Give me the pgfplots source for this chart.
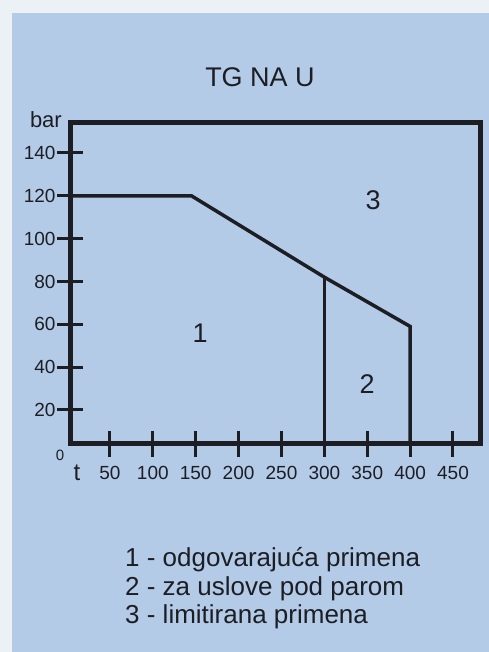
\documentclass[border=0pt]{standalone}
\usepackage{fontspec}
\setmainfont{Liberation Sans}
\usepackage{pgfplots}
\pgfplotsset{compat=1.18}
\definecolor{panel}{RGB}{180,203,232}
\definecolor{edge}{RGB}{236,241,246}
\definecolor{ink}{RGB}{28,30,36}
\begin{document}
\begin{tikzpicture}[x=1pt,y=1pt]
\fill[edge] (0,0) rectangle (489,652);
\fill[panel] (12,0) rectangle (489,639);
\node[text=ink,font=\fontsize{27}{30}\selectfont] at (260,575) {TG NA U};
\begin{axis}[
  at={(70pt,208pt)}, anchor=south west,
  scale only axis, width=410pt, height=321pt,
  xmin=3.4, xmax=481.5, ymin=4.1, ymax=154,
  clip=false,
  axis line style={ink, line width=5pt},
  xtick={50,100,...,450}, ytick={20,40,...,140},
  tick pos=left, tick align=center, major tick length=26pt,
  tick style={ink, line width=3pt},
  tick label style={font=\fontsize{19}{21}\selectfont, text=ink},
  /pgf/number format/assume math mode=true,
  xticklabel style={anchor=north, yshift=-6pt},
  yticklabel style={anchor=east, xshift=2pt},
]
\addplot[ink, line width=3.5pt] coordinates {(3.4,120) (145,120) (300,82) (400,59) (400,4.1)};
\addplot[ink, line width=3.5pt] coordinates {(300,82) (300,4.1)};
\node[text=ink, font=\fontsize{27}{30}\selectfont] at (axis cs:155,56) {1};
\node[text=ink, font=\fontsize{27}{30}\selectfont] at (axis cs:357,118) {3};
\node[text=ink, font=\fontsize{27}{30}\selectfont] at (axis cs:350,32) {2};
\node[text=ink, font=\fontsize{22}{24}\selectfont, anchor=base east, inner sep=0pt] at ([xshift=-8pt,yshift=-5pt]rel axis cs:0,1) {bar};
\node[text=ink, font=\fontsize{15}{17}\selectfont, inner sep=0pt] at ([xshift=-10pt,yshift=-11pt]rel axis cs:0,0) {0};
\node[text=ink, font=\fontsize{24}{26}\selectfont, inner sep=0pt] at ([xshift=7pt,yshift=-29pt]rel axis cs:0,0) {t};
\end{axis}
\node[text=ink, font=\fontsize{26}{28}\selectfont, anchor=base west, inner sep=0pt] at (125,85) {1 - odgovarajuća primena};
\node[text=ink, font=\fontsize{26}{28}\selectfont, anchor=base west, inner sep=0pt] at (125,56) {2 - za uslove pod parom};
\node[text=ink, font=\fontsize{26}{28}\selectfont, anchor=base west, inner sep=0pt] at (125,28) {3 - limitirana primena};
\end{tikzpicture}
\end{document}
